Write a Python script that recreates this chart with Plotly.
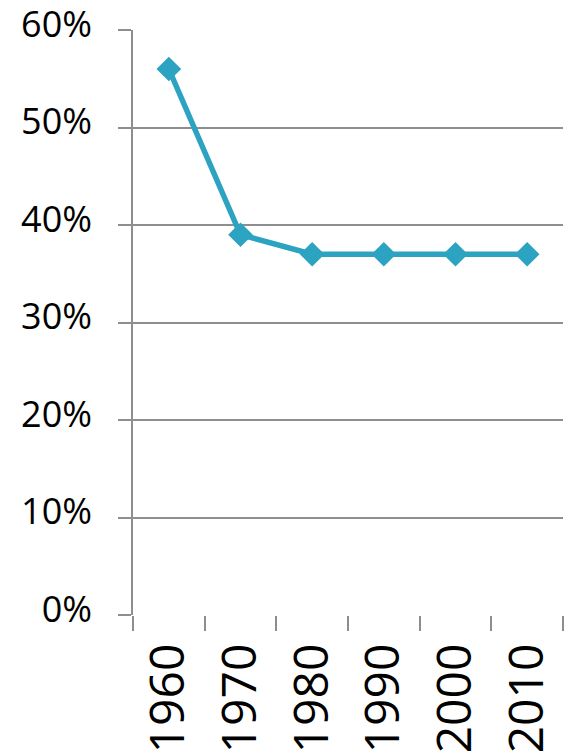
# Import dependencies
import plotly.graph_objects as go

# Chart data
decades = ['1960', '1970', '1980', '1990', '2000', '2010']
share = [0.56, 0.39, 0.37, 0.37, 0.37, 0.37]
y_ticks = [0, 0.1, 0.2, 0.3, 0.4, 0.5, 0.6]
y_tick_labels = ['0%', '10%', '20%', '30%', '40%', '50%', '60%']

line_color = '#2CA3C1'
grid_color = '#8E8E8E'

fig = go.Figure()
fig.add_trace(go.Scatter(x = decades,
                         y = share,
                         mode = 'lines+markers',
                         line = dict(color = line_color, width = 5.5),
                         marker = dict(symbol = 'diamond', size = 19, color = line_color),
                         hovertemplate = '%{x}: %{y:.0%}<extra></extra>'))

fig.update_layout(width = 565,
                  height = 754,
                  margin = dict(l = 133, r = 2, t = 30, b = 139),
                  paper_bgcolor = 'white',
                  plot_bgcolor = 'white',
                  showlegend = False,
                  font = dict(family = 'Open Sans', color = 'black'))

fig.update_xaxes(type = 'category',
                 range = [-0.5, 5.5],
                 tickson = 'boundaries',
                 ticks = 'outside',
                 ticklen = 15,
                 tickwidth = 1.5,
                 tickcolor = grid_color,
                 showgrid = False,
                 showline = False,
                 zeroline = False,
                 tickangle = -90,
                 ticklabelstandoff = 18,
                 ticklabeloverflow = 'allow',
                 tickfont = dict(size = 48),
                 automargin = False)

fig.update_yaxes(range = [0, 0.6],
                 tickvals = y_ticks,
                 ticktext = y_tick_labels,
                 ticks = 'outside',
                 ticklen = 13,
                 tickwidth = 1.5,
                 tickcolor = grid_color,
                 showgrid = True,
                 gridcolor = grid_color,
                 gridwidth = 1.5,
                 showline = True,
                 linecolor = grid_color,
                 linewidth = 1.5,
                 zeroline = False,
                 ticklabelstandoff = 19,
                 ticklabelshift = -6,
                 ticklabeloverflow = 'allow',
                 tickfont = dict(size = 36),
                 automargin = False)

# Drop the page's default body margin so the figure sits flush at the top-left corner,
# and keep the mode bar hidden
fig.write_html("out.html",
               config = {'displayModeBar': False},
               post_script = "document.body.style.margin = '0';")
